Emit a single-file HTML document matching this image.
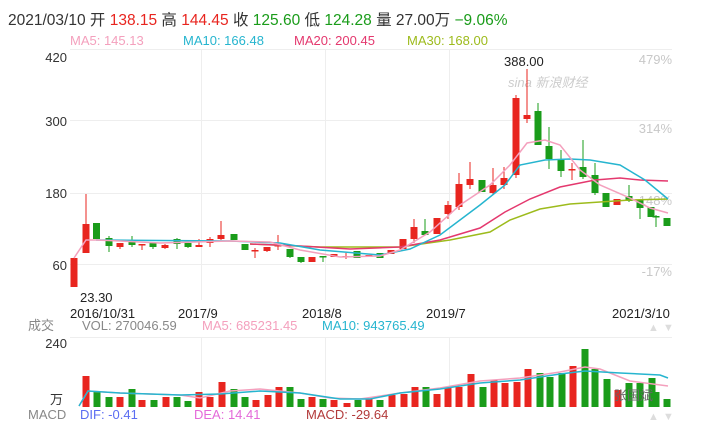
<!DOCTYPE html>
<html><head><meta charset="utf-8"><style>
body{margin:0;background:#fff;width:708px;height:423px;overflow:hidden;font-family:"Liberation Sans","Noto Sans CJK SC",sans-serif}
svg{display:block}
text{font-family:"Liberation Sans","Noto Sans CJK SC",sans-serif}
</style></head><body>
<svg id="s" width="708" height="423" xmlns="http://www.w3.org/2000/svg">
<g font-size="13">
<text x="8" y="25" fill="#333" font-size="15.5">2021/03/10 开 <tspan fill="#e8251f">138.15</tspan> 高 <tspan fill="#e8251f">144.45</tspan> 收 <tspan fill="#1a9c1a">125.60</tspan> 低 <tspan fill="#1a9c1a">124.28</tspan> 量 27.00万 <tspan fill="#1a9c1a">−9.06%</tspan></text>
<text x="70" y="45" fill="#f4a0bd">MA5: 145.13</text>
<text x="183" y="45" fill="#26b5cf">MA10: 166.48</text>
<text x="294" y="45" fill="#e4386e">MA20: 200.45</text>
<text x="407" y="45" fill="#9dbb1c">MA30: 168.00</text>
</g>
<g stroke="#eee" stroke-width="1">
<line x1="70" y1="49.5" x2="672" y2="49.5"/><line x1="70" y1="120.5" x2="672" y2="120.5"/>
<line x1="70" y1="193.5" x2="672" y2="193.5"/><line x1="70" y1="264.5" x2="672" y2="264.5"/>
<line x1="201.5" y1="49" x2="201.5" y2="300"/><line x1="325.5" y1="49" x2="325.5" y2="300"/><line x1="449.5" y1="49" x2="449.5" y2="300"/>
<line x1="201.5" y1="337" x2="201.5" y2="408"/><line x1="325.5" y1="337" x2="325.5" y2="408"/><line x1="449.5" y1="337" x2="449.5" y2="408"/>
<line x1="70" y1="337.5" x2="672" y2="337.5"/>
</g>
<g font-size="13" fill="#333" text-anchor="end">
<text x="67" y="62">420</text><text x="67" y="126">300</text><text x="67" y="198">180</text><text x="67" y="270">60</text>
<text x="67" y="348">240</text>
</g>
<g font-size="13" fill="#c8c8c8" text-anchor="end">
<text x="672" y="64">479%</text><text x="672" y="133">314%</text><text x="672" y="205">148%</text><text x="672" y="276">-17%</text>
</g>
<text x="508" y="87" font-size="13" fill="#ccc" font-style="italic">sina 新浪财经</text>
<text x="504" y="66" font-size="13" fill="#222">388.00</text>
<text x="80" y="302" font-size="13" fill="#222">23.30</text>
<g font-size="13" fill="#222">
<text x="70" y="318">2016/10/31</text><text x="178" y="318">2017/9</text><text x="302" y="318">2018/8</text><text x="426" y="318">2019/7</text><text x="612" y="318">2021/3/10</text>
</g>
<g font-size="13">
<text x="28" y="330" fill="#888">成交</text><text x="82" y="330" fill="#888">VOL: 270046.59</text>
<text x="202" y="330" fill="#f4a0bd">MA5: 685231.45</text><text x="322" y="330" fill="#26b5cf">MA10: 943765.49</text>
<text x="50" y="404" fill="#333">万</text>
<text x="28" y="419" fill="#888">MACD</text><text x="80" y="419" fill="#5b6df2">DIF: -0.41</text>
<text x="194" y="419" fill="#e46ad9">DEA: 14.41</text><text x="306" y="419" fill="#b23a3a">MACD: -29.64</text>
</g>
<g fill="#ddd" font-size="11"><text x="648" y="331">▲</text><text x="663" y="331">▼</text><text x="648" y="420">▲</text><text x="663" y="420">▼</text></g>
<g id="c"></g>
<text x="614" y="400" font-size="13" fill="#666">张国斌</text>
</svg>
<script>
var R="#e8251f",G="#1a9c1a";
var C=[[74,'r',258,287,258,287],[86,'r',224,253,194,253],[96.5,'g',223,239,223,239],[109,'g',238,246,236,252],[120,'r',243,247,243,249],[132,'g',240,245,236,247],[142,'r',244,245,244,250],[153,'g',243,247,242,249],[165,'r',245,248,244,249],[177,'g',239,244,238,249],[188,'g',243,247,242,248],[199,'r',245,247,239,247],[210,'r',239,243,237,247],[221,'r',235,239,221,240],[234,'g',234,240,234,240],[245,'g',244,250,244,250],[255,'r',250,251,248,258],[267,'r',247,251,247,252],[278,'r',245,246,235,250],[290,'g',249,257,249,258],[301,'g',257,262,257,263],[312,'r',257,262,257,262],[323,'g',256,257,256,262],[334,'r',254,257,254,257],[346,'r',256,257,253,259],[357,'g',251,258,251,258],[369,'r',255,257,255,257],[380,'g',253,258,253,258],[391,'r',250,254,250,254],[403,'r',239,249,239,249],[414,'r',227,239,219,243],[425,'g',231,235,219,235],[437,'r',218,234,218,234],[448,'r',205,214,201,219],[459,'r',184,207,173,210],[470,'r',179,185,162,189],[482,'g',180,192,180,192],[493,'r',185,193,168,194],[504,'r',178,185,167,189],[516,'r',98,175,95,178],[527,'r',115,119,69,123],[538,'g',111,145,103,145],[549,'g',146,159,127,169],[561,'g',160,171,150,177],[572,'r',169,170,163,180],[583,'g',167,177,140,179],[595,'g',175,193,163,195],[606,'g',193,207,193,207],[617,'r',199,205,199,205],[629,'g',196,201,185,202],[640,'g',200,208,199,219],[651,'g',207,217,207,217],[663,'g',216,217,215,227],[668,'g',218,226,218,226]];
C[C.length-1][0]=667;C[C.length-2][0]=656;
var h='';
C.forEach(function(c){var col=c[1]=='r'?R:G;h+='<line x1="'+c[0]+'" x2="'+c[0]+'" y1="'+c[4]+'" y2="'+c[5]+'" stroke="'+col+'"/>';h+='<rect x="'+(c[0]-3.5)+'" y="'+c[2]+'" width="7" height="'+Math.max(1.5,c[3]-c[2])+'" fill="'+col+'"/>';});
function pl(p,col){return '<polyline fill="none" stroke="'+col+'" stroke-width="1.5" points="'+p+'"/>';}
h+=pl("250,244 320,247 400,247 450,240 490,232 510,220 540,209 570,204 600,202 630,200 668,199","#9dbb1c");
h+=pl("250,244 300,246 350,249 400,247 440,240 480,228 505,212 530,199 560,187 595,180 620,178 640,180 668,181","#e4386e");
h+=pl("96,240 230,241 280,243 320,250 380,255 410,249 440,235 480,205 505,185 520,165 545,160 570,159 590,160 620,165 645,180 668,199","#26b5cf");
h+=pl("74,258 86,240 96,240 120,241 160,243 230,241 270,242 300,250 340,257 380,256 400,250 430,232 460,205 490,185 510,165 527,143 545,140 560,145 580,170 600,185 630,198 650,208 668,213","#f4a0bd");
var V=[[86,'r',376],[97,'g',391],[109,'g',397],[120,'r',397],[132,'g',389],[142,'r',400],[154,'g',400],[166,'r',397],[177,'g',397],[188,'g',401],[199,'r',392],[210,'r',397],[222,'r',382],[234,'g',389],[245,'g',397],[256,'r',400],[268,'r',395],[279,'r',387],[290,'g',387],[301,'g',399],[312,'r',397],[323,'g',399],[334,'r',400],[347,'r',403],[358,'g',400],[369,'r',399],[380,'g',400],[392,'r',395],[404,'r',394],[415,'r',387],[426,'g',387],[437,'r',394],[448,'r',387],[459,'r',387],[471,'r',374],[483,'g',387],[494,'r',380],[505,'r',383],[517,'r',382],[528,'r',369],[540,'g',373],[550,'g',377],[562,'g',373],[573,'r',366],[585,'g',349],[595,'g',369],[607,'g',379],[618,'r',390],[629,'g',383],[640,'g',383],[652,'g',378],[663,'g',392],[667,'g',399]];
V[V.length-2][0]=656;
V.forEach(function(v){h+='<rect x="'+(v[0]-3.5)+'" y="'+v[2]+'" width="7" height="'+(407-v[2])+'" fill="'+(v[1]=='r'?R:G)+'"/>';});
h+=pl("79,406 88,391 120,393 180,395 200,398 230,391 260,389 300,393 330,398 360,399 400,393 440,388 480,381 520,378 560,372 585,367 600,369 630,381 668,386","#f4a0bd");
h+=pl("79,406 88,391 120,393 180,395 220,394 260,391 300,393 340,399 370,399 400,393 440,389 480,383 520,380 560,374 585,371 620,373 660,375 668,378","#26b5cf");
document.getElementById('c').innerHTML=h;
</script>
</body></html>
